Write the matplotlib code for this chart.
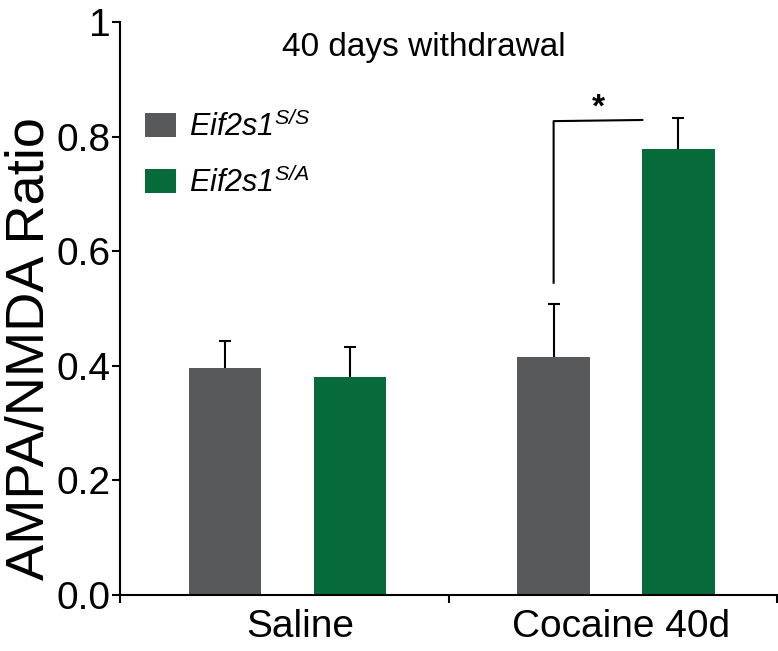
import numpy as np
import matplotlib
matplotlib.use("Agg")
import matplotlib.pyplot as plt

plt.rcParams['font.family'] = ['Liberation Sans', 'DejaVu Sans']
# legenda toda em italico (os digitos tambem)
plt.rcParams['mathtext.fontset'] = 'custom'
plt.rcParams['mathtext.it'] = 'Liberation Sans:italic'
plt.rcParams['mathtext.rm'] = 'Liberation Sans:italic'
plt.rcParams['mathtext.default'] = 'it'

# Dados
grupos = ["Saline", "Cocaine 40d"]
series = [r"$Eif2s1^{S/S}$", r"$Eif2s1^{S/A}$"]
media_ss = [0.396, 0.416]
erro_ss = [0.047, 0.092]
media_sa = [0.380, 0.779]
erro_sa = [0.052, 0.053]
cores = ["#58595b", "#066a3a"]
yticks = [0.0, 0.2, 0.4, 0.6, 0.8, 1.0]
ytick_labels = ["0.0", "0.2", "0.4", "0.6", "0.8", "1"]

fig = plt.figure(figsize=(7.78, 6.51), dpi=100)
ax = fig.add_axes([120 / 778, 56 / 651, 657 / 778, 573 / 651])

x = np.arange(len(grupos)) + 0.51
largura = 0.22
desloc = 0.19

b1 = ax.bar(x - desloc, media_ss, largura, color=cores[0], label=series[0], zorder=2)
b2 = ax.bar(x + desloc, media_sa, largura, color=cores[1], label=series[1], zorder=2)
for xx, m, e in [(x - desloc, media_ss, erro_ss), (x + desloc, media_sa, erro_sa)]:
    eb = ax.errorbar(xx, m, yerr=[np.zeros(len(e)), e], fmt="none",
                     ecolor="black", elinewidth=1.5, capsize=4.5, capthick=1.5, zorder=1)
    # so a tampa de cima
    eb[1][0].set_visible(False)

# Significancia
xs = x[1] - desloc
xe = x[1] + desloc - largura / 2
ax.plot([xs, xs, xe], [0.545, 0.827, 0.829], color="black", lw=1.5)
ax.text((xs + xe) / 2, 0.822, "*", ha="center", va="bottom", fontsize=24, fontweight="bold")

# Titulo interno
ax.text(0.925, 0.955, "40 days withdrawal", ha="center", va="center", fontsize=24)

# Eixos
ax.set_xlim(0, 2)
ax.set_ylim(0, 1)
ax.spines[["top", "right"]].set_visible(False)
for s in ["left", "bottom"]:
    ax.spines[s].set_linewidth(1.5)
ax.set_yticks(yticks)
ax.set_yticklabels(ytick_labels)
ax.tick_params(axis="y", direction="out", length=6, width=1.5, pad=1, labelsize=28)
ax.set_xticks([0, 1, 2])
ax.set_xticklabels([])
ax.set_xticks(x + [0.04, 0.015], minor=True)
ax.set_xticklabels(grupos, minor=True)
ax.tick_params(axis="x", which="major", direction="out", length=6, width=1.5)
ax.tick_params(axis="x", which="minor", length=0, pad=10, labelsize=28)
ax.set_ylabel("AMPA/NMDA Ratio", fontsize=39)
ax.yaxis.set_label_coords(-0.10, 0.43)

ax.legend(handles=[b1, b2], loc="upper left", bbox_to_anchor=(0.038, 0.845),
          frameon=False, fontsize=22, handlelength=1.03, handleheight=0.84,
          handletextpad=0.4, labelspacing=0.78, borderpad=0, borderaxespad=0)

fig.savefig("out.png", dpi=100)
